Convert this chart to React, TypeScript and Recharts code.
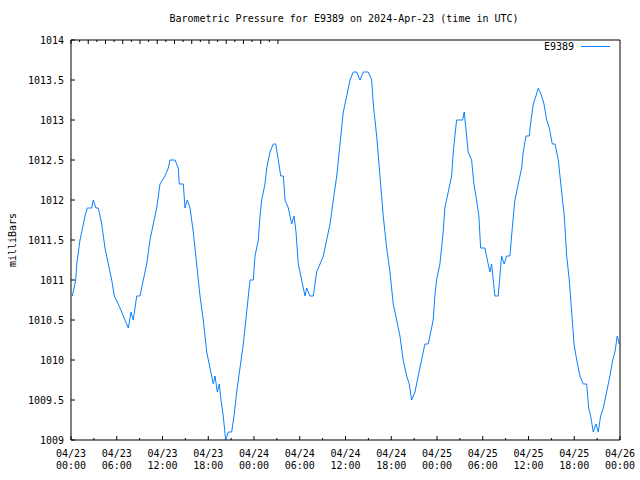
import { LineChart, Line, XAxis, YAxis, Legend } from "recharts"

// hours since 2024-04-23 00:00 UTC
const hours = [
  0.17, 0.62, 0.75, 1.18, 1.4, 1.84, 2.14, 2.71, 2.92, 3.28, 3.58, 4.03, 4.46, 4.89, 5.34, 5.68,
  6.2, 6.65, 7.08, 7.52, 7.87, 8.17, 8.62, 9.05, 9.48, 9.93, 10.36, 10.79, 11.24, 11.67,
  12.33, 12.76, 12.98, 13.64, 14.07, 14.2, 14.73, 14.95, 15.25, 15.61, 16.04, 16.48, 16.92,
  17.35, 17.8, 18.23, 18.66, 18.89, 19.19, 19.45, 19.67, 19.97, 20.28, 20.63, 21.07, 21.38,
  21.73, 22.16, 22.6, 23.04, 23.48, 23.91, 24.13, 24.57, 24.79, 25.01, 25.44, 25.67, 26.1,
  26.53, 26.85, 27.19, 27.5, 27.85, 28.07, 28.5, 28.94, 29.25, 29.51, 29.81, 30.25, 30.69,
  30.91, 31.34, 31.78, 32.22, 32.66, 33.09, 33.53, 33.97, 34.4, 34.85, 35.28, 35.71, 36.16,
  36.59, 37.02, 37.47, 37.9, 38.33, 38.99, 39.43, 39.64, 40.09, 40.52, 40.95, 41.4, 41.83,
  42.26, 42.71, 43.14, 43.57, 44.02, 44.36, 44.67, 45.11, 45.54, 45.98, 46.41, 46.85, 47.29,
  47.5, 47.72, 47.94, 48.38, 48.81, 49.03, 49.47, 49.92, 50.13, 50.57, 50.78, 51.36, 51.57,
  51.89, 52.09, 52.54, 52.84, 53.19, 53.49, 53.72, 54.28, 54.71, 54.94, 55.16, 55.59, 56.03,
  56.47, 56.81, 57.13, 57.56, 57.92, 58.22, 58.66, 59.1, 59.31, 59.67, 60.1, 60.33, 60.63,
  60.98, 61.28, 61.73, 62.03, 62.38, 62.73, 63.12, 63.48, 63.91, 64.35, 64.69, 65.01, 65.35,
  65.66, 65.97, 66.32, 66.75, 67.18, 67.63, 67.89, 68.15, 68.49, 68.85, 69.15, 69.46, 69.81,
  70.25, 70.68, 71.04, 71.34, 71.64, 71.9,
]

const pressure = [
  1010.8, 1011.0, 1011.2, 1011.5, 1011.6, 1011.8, 1011.9, 1011.9, 1012.0, 1011.9, 1011.9, 1011.7,
  1011.4, 1011.2, 1011.0, 1010.8, 1010.7, 1010.6, 1010.5, 1010.4, 1010.6, 1010.5, 1010.8, 1010.8,
  1011.0, 1011.2, 1011.5, 1011.7, 1011.9, 1012.2, 1012.3, 1012.4, 1012.5, 1012.5, 1012.4, 1012.2,
  1012.2, 1011.9, 1012.0, 1011.9, 1011.6, 1011.2, 1010.8, 1010.5, 1010.1, 1009.9, 1009.7, 1009.8,
  1009.6, 1009.7, 1009.5, 1009.3, 1009.0, 1009.1, 1009.1, 1009.3, 1009.6, 1009.9, 1010.2, 1010.6,
  1011.0, 1011.0, 1011.3, 1011.5, 1011.8, 1012.0, 1012.2, 1012.4, 1012.6, 1012.7, 1012.7, 1012.5,
  1012.3, 1012.3, 1012.0, 1011.9, 1011.7, 1011.8, 1011.6, 1011.2, 1011.0, 1010.8, 1010.9, 1010.8,
  1010.8, 1011.1, 1011.2, 1011.3, 1011.5, 1011.7, 1012.0, 1012.3, 1012.7, 1013.1, 1013.3, 1013.5,
  1013.6, 1013.6, 1013.5, 1013.6, 1013.6, 1013.5, 1013.2, 1012.8, 1012.3, 1011.8, 1011.4, 1011.1,
  1010.7, 1010.5, 1010.3, 1010.0, 1009.8, 1009.7, 1009.5, 1009.6, 1009.8, 1010.0, 1010.2, 1010.2,
  1010.4, 1010.5, 1010.8, 1011.0, 1011.2, 1011.6, 1011.9, 1012.1, 1012.3, 1012.6, 1013.0, 1013.0,
  1013.0, 1013.1, 1012.8, 1012.6, 1012.5, 1012.2, 1012.0, 1011.8, 1011.4, 1011.4, 1011.2, 1011.1,
  1011.2, 1010.8, 1010.8, 1011.3, 1011.2, 1011.3, 1011.3, 1011.7, 1012.0, 1012.2, 1012.4, 1012.6,
  1012.8, 1012.8, 1013.0, 1013.2, 1013.3, 1013.4, 1013.3, 1013.2, 1013.0, 1012.9, 1012.7, 1012.7,
  1012.5, 1012.1, 1011.8, 1011.3, 1011.0, 1010.6, 1010.2, 1010.0, 1009.8, 1009.7, 1009.7, 1009.4,
  1009.3, 1009.1, 1009.2, 1009.1, 1009.3, 1009.4, 1009.6, 1009.8, 1010.0, 1010.1, 1010.3, 1010.2,
]

const xTicks = [0, 3, 6, 9, 12, 15, 18, 21, 24, 27, 30, 33, 36, 39, 42, 45, 48, 51, 54, 57, 60, 63, 66, 69, 72]
const yTicks = [1009, 1009.5, 1010, 1010.5, 1011, 1011.5, 1012, 1012.5, 1013, 1013.5, 1014]
const seriesName = "E9389"
const chartTitle = "Barometric Pressure for E9389 on 2024-Apr-23 (time in UTC)"
const yLabel = "milliBars"

const data = hours.map((h, i) => ({ h, p: pressure[i] }))

const FONT = "'DejaVu Sans Mono', monospace"
const LINE_COLOR = "#0a80ff"

function BottomTick(props: any) {
  const { x, y, payload } = props
  const h = payload.value
  const major = h % 6 === 0
  const day = 23 + Math.floor(h / 24)
  const hh = String(h % 24).padStart(2, "0")
  return (
    <g>
      <line x1={x} x2={x} y1={y} y2={y - (major ? 4 : 2)} stroke="#000" />
      {major && (
        <text x={x} y={y + 13} textAnchor="middle" dominantBaseline="central" fontFamily={FONT} fontSize={10} fill="#000">
          <tspan x={x}>{`04/${day}`}</tspan>
          <tspan x={x} dy={12}>{`${hh}:00`}</tspan>
        </text>
      )}
    </g>
  )
}

function TopTick(props: any) {
  const { x, y, payload } = props
  const major = payload.value % 6 === 0
  return <line x1={x} x2={x} y1={y} y2={y + (major ? 4 : 2)} stroke="#000" />
}

function LeftTick(props: any) {
  const { x, y, payload } = props
  return (
    <g>
      <line x1={x} x2={x + 4} y1={y} y2={y} stroke="#000" />
      <text x={x - 7} y={y} textAnchor="end" dominantBaseline="central" fontFamily={FONT} fontSize={10} fill="#000">
        {String(payload.value)}
      </text>
    </g>
  )
}

function RightTick(props: any) {
  const { x, y } = props
  return <line x1={x} x2={x - 4} y1={y} y2={y} stroke="#000" />
}

function LegendBox(props: any) {
  const item = props.payload && props.payload[0]
  return (
    <div style={{ display: "flex", alignItems: "center", fontFamily: FONT, fontSize: 10, color: "#000" }}>
      <span>{item ? item.value : seriesName}</span>
      <span style={{ display: "inline-block", width: 29, height: 1, background: LINE_COLOR, marginLeft: 7 }} />
    </div>
  )
}

export default function App() {
  return (
    <div style={{ position: "absolute", left: 0, top: 0, width: 640, height: 480, background: "#fff" }}>
      <div
        style={{
          position: "absolute",
          top: 13,
          left: 0,
          width: 688,
          textAlign: "center",
          fontFamily: FONT,
          fontSize: 10,
          color: "#000",
        }}
      >
        {chartTitle}
      </div>
      <LineChart width={640} height={480} data={data} margin={{ top: 39, right: 19, bottom: 0, left: 0 }}>
        <XAxis
          dataKey="h"
          type="number"
          domain={[0, 72]}
          ticks={xTicks}
          interval={0}
          height={40}
          tickSize={0}
          tickMargin={0}
          tickLine={false}
          axisLine={{ stroke: "#000" }}
          tick={<BottomTick />}
        />
        <XAxis
          xAxisId="top"
          orientation="top"
          type="number"
          domain={[0, 72]}
          ticks={xTicks}
          interval={0}
          height={1}
          tickSize={0}
          tickMargin={0}
          tickLine={false}
          axisLine={{ stroke: "#000" }}
          tick={<TopTick />}
        />
        <YAxis
          type="number"
          domain={[1009, 1014]}
          ticks={yTicks}
          interval={0}
          width={71}
          tickSize={0}
          tickMargin={0}
          tickLine={false}
          axisLine={{ stroke: "#000" }}
          tick={<LeftTick />}
          label={{
            content: (p: any) => {
              const vb = p.viewBox
              const cx = 12
              const cy = vb.y + vb.height / 2
              return (
                <text x={cx} y={cy} transform={`rotate(-90 ${cx} ${cy})`} textAnchor="middle" dominantBaseline="central" fontFamily={FONT} fontSize={10} fill="#000">
                  {yLabel}
                </text>
              )
            },
          }}
        />
        <YAxis
          yAxisId="right"
          orientation="right"
          type="number"
          domain={[1009, 1014]}
          ticks={yTicks}
          interval={0}
          width={1}
          tickSize={0}
          tickMargin={0}
          tickLine={false}
          axisLine={{ stroke: "#000" }}
          tick={<RightTick />}
        />
        <Legend
          layout="vertical"
          align="center"
          verticalAlign="middle"
          content={<LegendBox />}
          wrapperStyle={{ position: "absolute", top: 41, left: "auto", right: 30, width: "auto" }}
        />
        <Line
          type="linear"
          dataKey="p"
          name={seriesName}
          stroke={LINE_COLOR}
          strokeWidth={1}
          dot={false}
          isAnimationActive={false}
        />
      </LineChart>
    </div>
  )
}
